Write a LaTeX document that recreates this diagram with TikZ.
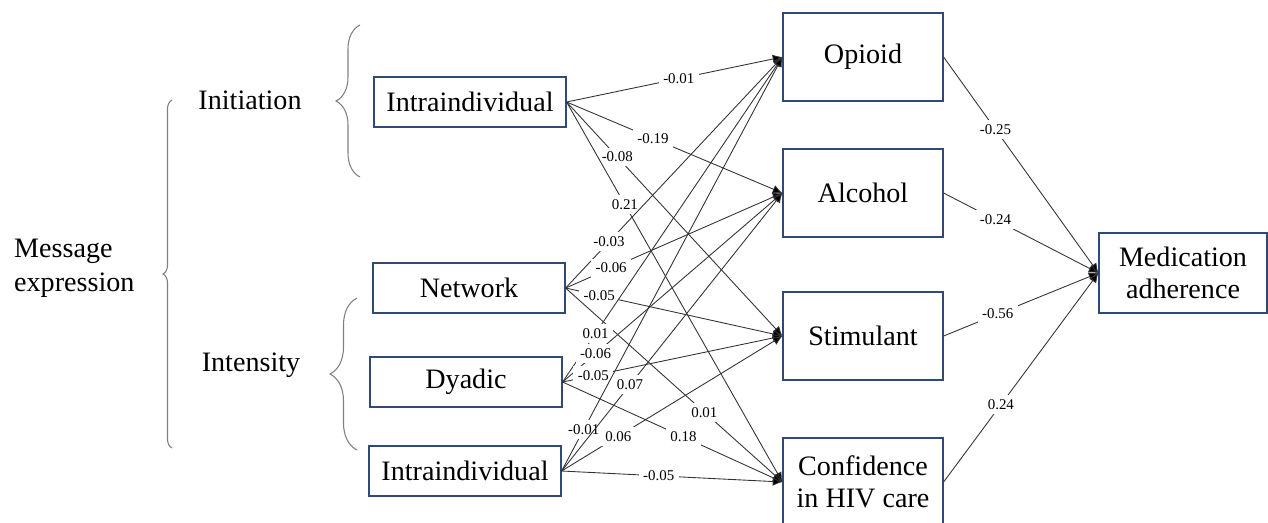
\documentclass[tikz,border=0pt]{standalone}
\usepackage{fontspec}
\setmainfont{Liberation Serif}
\usetikzlibrary{arrows.meta,decorations.pathreplacing}
\definecolor{boxline}{HTML}{2F4A78}
\definecolor{pathline}{HTML}{333333}
\definecolor{braceline}{HTML}{7F7F7F}

\begin{document}
\begin{tikzpicture}[x=0.02cm, y=-0.02cm,
    varbox/.style={draw=boxline, line width=0.7pt, fill=white, align=center,
                   font=\fontsize{16}{18}\selectfont, inner sep=0pt},
    srcbox/.style={varbox, minimum width=3.84cm, minimum height=1cm},
    medbox/.style={varbox, minimum width=3.2cm, minimum height=1.76cm},
    path/.style={draw=pathline, line width=0.5pt,
                 -{Latex[length=5.5pt,width=5pt,fill=black]}},
    coef/.style={fill=white, inner sep=2.5pt, font=\fontsize{8.5}{9}\selectfont},
    grp/.style={font=\fontsize{16}{19.5}\selectfont},
    curly/.style={draw=braceline, line width=0.6pt, decorate}]
  \useasboundingbox (0,0) rectangle (1268,522);

  \node[grp, anchor=west, align=left] (msg) at (8,268) {Message\\expression};
  \node[grp] (initiation) at (250,100) {Initiation};
  \node[grp] (intensity) at (251,365) {Intensity};

  \draw[curly, decoration={brace, amplitude=0.18cm}] (172,448) -- (172,100);
  \draw[curly, decoration={brace, amplitude=0.48cm}] (360,177) -- (360,25);
  \draw[curly, decoration={brace, amplitude=0.54cm}] (357,450) -- (357,298);

  \node[srcbox] (intraA) at (470,102) {Intraindividual};
  \node[srcbox] (network) at (469,288) {Network};
  \node[srcbox] (dyadic) at (466,382) {Dyadic};
  \node[srcbox] (intraB) at (465,471) {Intraindividual};

  \node[medbox] (opioid) at (863,57) {Opioid};
  \node[medbox] (alcohol) at (863,193) {Alcohol};
  \node[medbox] (stimulant) at (863,336) {Stimulant};
  \node[medbox] (confidence) at (863,482) {Confidence\\in HIV care};
  \node[varbox, minimum width=3.36cm, minimum height=1.6cm] (adherence)
    at (1183,273) {Medication\\adherence};

  \draw[path] (intraA.east) -- node[coef, pos=0.52] {-0.01} (opioid.west);
  \draw[path] (intraA.east) -- node[coef, pos=0.40] {-0.19} (alcohol.west);
  \draw[path] (intraA.east) -- node[coef, pos=0.235] {-0.08} (stimulant.west);
  \draw[path] (intraA.east) -- node[coef, pos=0.27] {0.21} (confidence.west);

  \draw[path] (network.east) -- node[coef, pos=0.2] {-0.03} (opioid.west);
  \draw[path] (network.east) -- node[coef, pos=0.21] {-0.06} (alcohol.west);
  \draw[path] (network.east) -- node[coef, pos=0.155] {-0.05} (stimulant.west);
  \draw[path] (network.east) -- node[coef, pos=0.64] {0.01} (confidence.west);

  \draw[path] (dyadic.east) -- node[coef, pos=0.15] {0.01} (opioid.west);
  \draw[path] (dyadic.east) -- node[coef, pos=0.15] {-0.06} (alcohol.west);
  \draw[path] (dyadic.east) -- node[coef, pos=0.14] {-0.05} (stimulant.west);
  \draw[path] (dyadic.east) -- node[coef, pos=0.55] {0.18} (confidence.west);

  \draw[path] (intraB.east) -- node[coef, pos=0.1] {-0.01} (opioid.west);
  \draw[path] (intraB.east) -- node[coef, pos=0.31] {0.07} (alcohol.west);
  \draw[path] (intraB.east) -- node[coef, pos=0.257] {0.06} (stimulant.west);
  \draw[path] (intraB.east) -- node[coef, pos=0.44] {-0.05} (confidence.west);

  \draw[path] (opioid.east) -- node[coef, pos=0.335] {-0.25} (adherence.west);
  \draw[path] (alcohol.east) -- node[coef, pos=0.335] {-0.24} (adherence.west);
  \draw[path] (stimulant.east) -- node[coef, pos=0.35] {-0.56} (adherence.west);
  \draw[path] (confidence.east) -- node[coef, pos=0.37] {0.24} (adherence.west);
\end{tikzpicture}
\end{document}
